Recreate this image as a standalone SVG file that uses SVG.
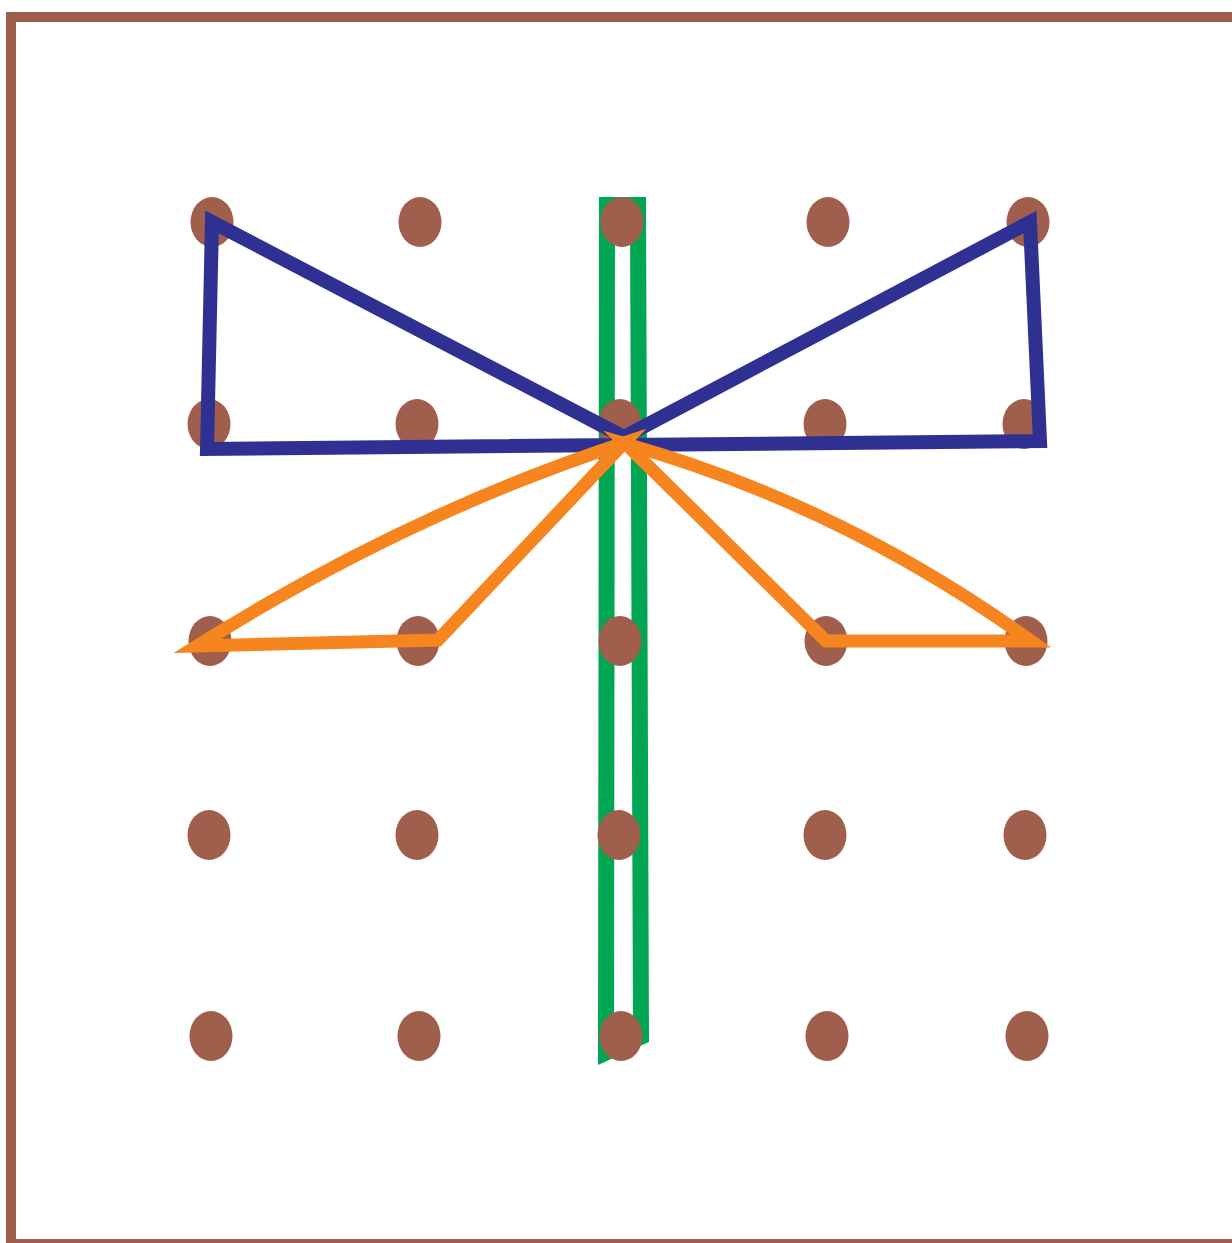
<svg xmlns="http://www.w3.org/2000/svg" width="1232" height="1243" viewBox="0 0 1232 1243">
<style>
.peg{fill:#A05F4C}
.band{fill:none;stroke-linejoin:miter;stroke-miterlimit:20}
</style>
<rect width="1232" height="1243" fill="#ffffff"/>
<rect x="11" y="17" width="1240" height="1227" fill="none" stroke="#A05F4C" stroke-width="10"/>
<g id="green-band">
<path d="M599,197 L646,197 L649,1042 L598,1065 Z M615,213 L630,213 L633,1032 L614,1042 Z" fill="#00A651" fill-rule="evenodd"/>
</g>
<g id="pegs">
<ellipse class="peg" cx="212" cy="222" rx="21.5" ry="25"/>
<ellipse class="peg" cx="420" cy="222" rx="21.5" ry="25"/>
<ellipse class="peg" cx="622" cy="222" rx="21.5" ry="25"/>
<ellipse class="peg" cx="828" cy="222" rx="21.5" ry="25"/>
<ellipse class="peg" cx="1028" cy="222" rx="21.5" ry="25"/>
<ellipse class="peg" cx="209" cy="424" rx="21.5" ry="25"/>
<ellipse class="peg" cx="417" cy="424" rx="21.5" ry="25"/>
<ellipse class="peg" cx="620" cy="424" rx="21.5" ry="25"/>
<ellipse class="peg" cx="825" cy="424" rx="21.5" ry="25"/>
<ellipse class="peg" cx="1024" cy="424" rx="21.5" ry="25"/>
<ellipse class="peg" cx="210" cy="641" rx="21.5" ry="25"/>
<ellipse class="peg" cx="418" cy="641" rx="21.5" ry="25"/>
<ellipse class="peg" cx="620" cy="641" rx="21.5" ry="25"/>
<ellipse class="peg" cx="826" cy="641" rx="21.5" ry="25"/>
<ellipse class="peg" cx="1026" cy="641" rx="21.5" ry="25"/>
<ellipse class="peg" cx="209" cy="835" rx="21.5" ry="25"/>
<ellipse class="peg" cx="417" cy="835" rx="21.5" ry="25"/>
<ellipse class="peg" cx="619" cy="835" rx="21.5" ry="25"/>
<ellipse class="peg" cx="825" cy="835" rx="21.5" ry="25"/>
<ellipse class="peg" cx="1025" cy="835" rx="21.5" ry="25"/>
<ellipse class="peg" cx="211" cy="1036" rx="21.5" ry="25"/>
<ellipse class="peg" cx="419" cy="1036" rx="21.5" ry="25"/>
<ellipse class="peg" cx="621" cy="1036" rx="21.5" ry="25"/>
<ellipse class="peg" cx="827" cy="1036" rx="21.5" ry="25"/>
<ellipse class="peg" cx="1027" cy="1036" rx="21.5" ry="25"/>
</g>
<g id="blue-band">
<path class="band" d="M212,222 L207,449 L1040,441 L1030,222 L624,437 Z" stroke="#2E3192" stroke-width="14"/>
</g>
<g id="orange-band">
<path class="band" d="M624,443 Q405,515 197,646 L438,640 Z" stroke="#F6851F" stroke-width="13"/>
<path class="band" d="M626,444 L826,641 L1031,641 Q842,505 626,444 Z" stroke="#F6851F" stroke-width="13"/>
</g>
</svg>
